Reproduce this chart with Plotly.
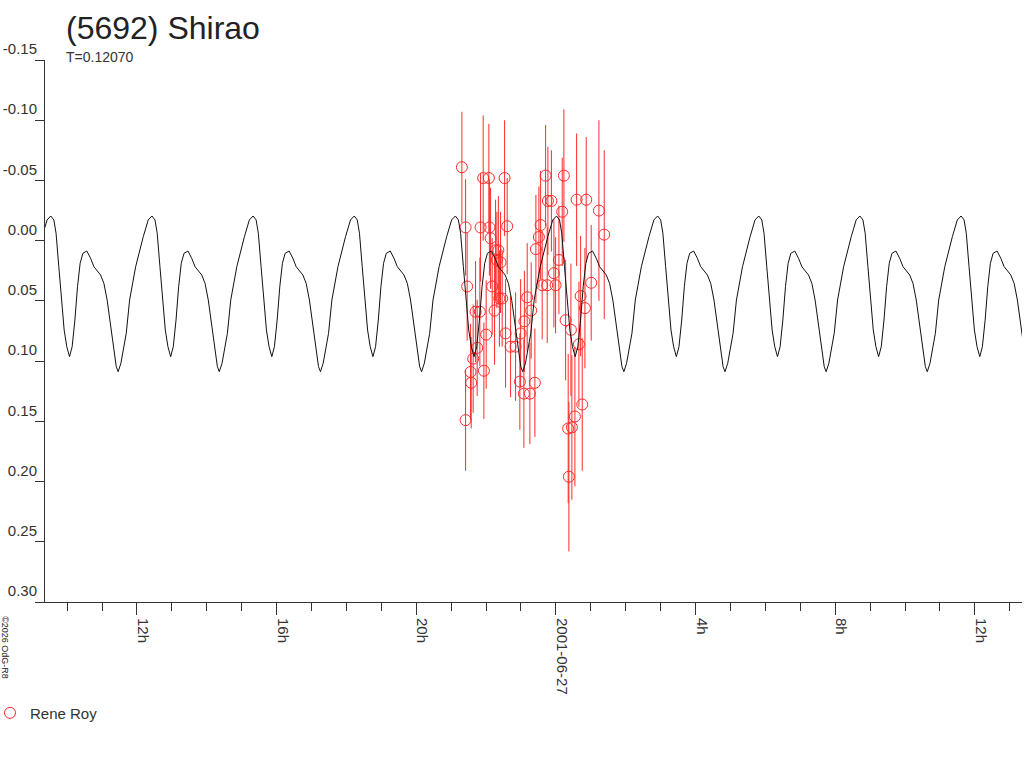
import pandas as pd
import plotly.graph_objects as go

# observations (hours relative to 2001-06-27 00:00 UT, magnitude, error)
obs_hours = [-2.693, -2.587, -2.587, -2.542, -2.444, -2.427, -2.370, -2.301, -2.255, -2.178,
             -2.158, -2.083, -2.063, -1.997, -1.920, -1.905, -1.871, -1.825, -1.756, -1.728,
             -1.691, -1.648, -1.619, -1.585, -1.539, -1.470, -1.441, -1.395, -1.298, -1.155,
             -1.032, -1.011, -0.917, -0.903, -0.822, -0.745, -0.708, -0.602, -0.573, -0.487,
             -0.438, -0.393, -0.295, -0.249, -0.229, -0.129, -0.057, -0.009, 0.086, 0.181,
             0.229, 0.278, 0.352, 0.372, 0.430, 0.458, 0.544, 0.593, 0.659, 0.708,
             0.754, 0.831, 0.868, 1.011, 1.232, 1.384]
obs_mag = [-0.061, -0.011, 0.149, 0.038, 0.109, 0.118, 0.098, 0.059, 0.089, 0.059,
           -0.011, -0.052, 0.108, 0.078, -0.052, -0.011, -0.002, 0.038, 0.058, 0.008,
           0.016, 0.008, 0.048, 0.018, 0.048, -0.052, 0.077, -0.012, 0.088, 0.088,
           0.117, 0.077, 0.127, 0.067, 0.047, 0.127, 0.058, 0.118, 0.007, -0.003,
           -0.013, 0.037, -0.054, 0.037, -0.033, -0.033, 0.027, 0.037, 0.016, -0.024,
           -0.054, 0.066, 0.156, 0.196, 0.074, 0.155, 0.146, -0.034, 0.086, 0.046,
           0.136, 0.056, -0.034, 0.035, -0.025, -0.005]
obs_err = [0.046, 0.040, 0.042, 0.045, 0.040, 0.038, 0.045, 0.042, 0.040, 0.045,
           0.045, 0.052, 0.040, 0.045, 0.045, 0.040, 0.042, 0.040, 0.045, 0.042,
           0.040, 0.045, 0.040, 0.042, 0.040, 0.048, 0.045, 0.040, 0.042, 0.045,
           0.040, 0.045, 0.045, 0.042, 0.045, 0.042, 0.040, 0.045, 0.045, 0.042,
           0.045, 0.045, 0.042, 0.048, 0.045, 0.042, 0.045, 0.040, 0.045, 0.045,
           0.055, 0.050, 0.062, 0.062, 0.055, 0.060, 0.058, 0.055, 0.052, 0.050,
           0.055, 0.050, 0.052, 0.048, 0.075, 0.070]

# fitted light curve, one period (phase from primary maximum, magnitude)
period_days = 0.12070
curve_epoch_hours = -11.57
curve_phase = [0.000, 0.030, 0.052, 0.079, 0.106, 0.132, 0.158, 0.185, 0.211, 0.238,
               0.264, 0.290, 0.317, 0.356, 0.393, 0.426, 0.492, 0.525, 0.557, 0.591,
               0.624, 0.647, 0.666, 0.693, 0.746, 0.779, 0.839, 0.885, 0.914, 0.963]
curve_mag = [-0.0205, -0.0172, -0.0061, 0.0216, 0.0493, 0.0742, 0.0880, 0.0963, 0.0880, 0.0659,
             0.0382, 0.0188, 0.0105, 0.0086, 0.0146, 0.0216, 0.0285, 0.0355, 0.0493, 0.0715,
             0.0935, 0.1046, 0.1088, 0.1018, 0.0769, 0.0493, 0.0216, 0.0060, -0.0033, -0.0172]

y_ticks = [-0.15, -0.10, -0.05, 0.00, 0.05, 0.10, 0.15, 0.20, 0.25, 0.30]
y_ticktext = ["-0.15", "-0.10", "-0.05", "0.00", "0.05", "0.10", "0.15", "0.20", "0.25", "0.30"]
x_ticks = ["2001-06-26 12:00", "2001-06-26 16:00", "2001-06-26 20:00", "2001-06-27 00:00",
           "2001-06-27 04:00", "2001-06-27 08:00", "2001-06-27 12:00"]
x_ticktext = ["12h", "16h", "20h", "2001-06-27", "4h", "8h", "12h"]

ref = pd.Timestamp("2001-06-27 00:00")
obs_time = ref + pd.to_timedelta(obs_hours, unit="h")

# repeat the phased curve over the whole time window
period_h = period_days * 24
curve_h = []
curve_y = []
for k in range(-2, 11):
    for ph, m in zip(curve_phase, curve_mag):
        curve_h.append(curve_epoch_hours + (k + ph) * period_h)
        curve_y.append(m)
curve_time = ref + pd.to_timedelta(curve_h, unit="h")

red = "#ff2a2a"
font = "Arial, Liberation Sans, sans-serif"

fig = go.Figure()
fig.add_trace(go.Scatter(
    x=obs_time, y=obs_mag, mode="markers", name="Rene Roy",
    marker=dict(symbol="circle-open", size=11, color=red, line=dict(width=1)),
    error_y=dict(type="data", array=obs_err, color=red, thickness=1, width=0),
))
fig.add_trace(go.Scatter(
    x=curve_time, y=curve_y, mode="lines", showlegend=False,
    line=dict(color="#111111", width=1),
))

fig.update_layout(
    width=1024, height=768,
    margin=dict(l=45, r=2, t=60, b=166, autoexpand=False),
    paper_bgcolor="white", plot_bgcolor="white",
    font=dict(family=font, size=15, color="#333333"),
    hovermode=False,
    showlegend=True,
    legend=dict(x=-0.0563, y=-0.205, xanchor="left", yanchor="middle",
                font=dict(size=15, color="#333333"), bgcolor="rgba(0,0,0,0)",
                itemwidth=30),
    annotations=[
        dict(text="(5692) Shirao", xref="paper", yref="paper", x=0.0195, y=1.022,
             xanchor="left", yanchor="bottom", showarrow=False,
             font=dict(size=32, color="#222222")),
        dict(text="T=0.12070", xref="paper", yref="paper", x=0.0195, y=1.006,
             xanchor="left", yanchor="middle", showarrow=False,
             font=dict(size=14, color="#333333")),
        dict(text="©2026 OdG-R8", xref="paper", yref="paper", x=-0.041, y=-0.085,
             xanchor="center", yanchor="middle", textangle=90, showarrow=False,
             font=dict(size=9, color="#222222")),
    ],
)
fig.update_xaxes(
    type="date", range=["2001-06-26 09:22", "2001-06-27 13:21"],
    tickvals=x_ticks, ticktext=x_ticktext, tickangle=90, ticklabelshift=6,
    ticks="outside", ticklen=12, tickcolor="#333333",
    minor=dict(dtick=3600000, ticks="outside", ticklen=8, tickcolor="#333333"),
    showline=True, linecolor="#333333", linewidth=1,
    showgrid=False, zeroline=False, automargin=False,
)
fig.update_yaxes(
    range=[0.30, -0.15], tickvals=y_ticks, ticktext=y_ticktext,
    ticks="outside", ticklen=9, tickcolor="#333333",
    ticklabelposition="outside top", ticklabelstandoff=4,
    showline=True, linecolor="#333333", linewidth=1,
    showgrid=False, zeroline=False, automargin=False,
)

# drop the default page margin so the figure sits at the window corner
fig.write_html("out.html", config={"displayModeBar": False},
               post_script="document.body.style.margin='0';")
